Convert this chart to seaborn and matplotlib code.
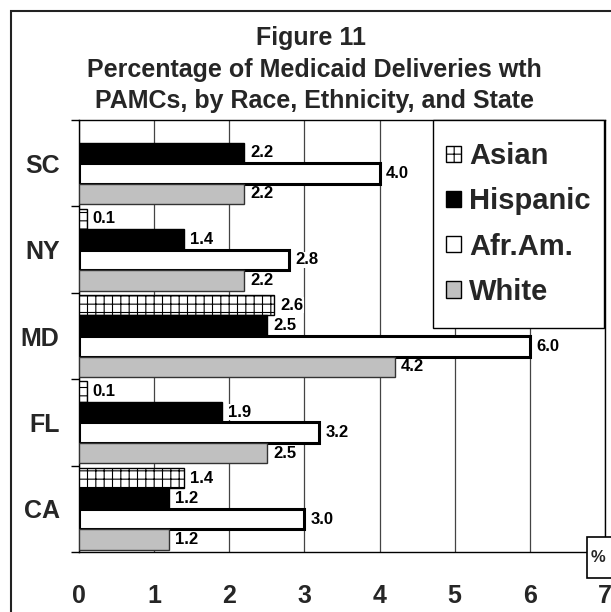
import numpy as np
import pandas as pd
import matplotlib
matplotlib.use("Agg")
import matplotlib.pyplot as plt
from matplotlib.patches import Patch, Rectangle
import seaborn as sns

# Data: percentage of Medicaid deliveries with PAMCs
states = ["SC", "NY", "MD", "FL", "CA"]
groups = ["Asian", "Hispanic", "Afr.Am.", "White"]
asian = [np.nan, 0.1, 2.6, 0.1, 1.4]
hispanic = [2.2, 1.4, 2.5, 1.9, 1.2]
afr_am = [4.0, 2.8, 6.0, 3.2, 3.0]
white = [2.2, 2.2, 4.2, 2.5, 1.2]
x_ticks = [0, 1, 2, 3, 4, 5, 6, 7]

sns.set_style("white")
plt.rcParams["font.family"] = ["Liberation Sans", "DejaVu Sans"]
plt.rcParams["font.weight"] = "bold"
plt.rcParams["hatch.linewidth"] = 0.8

rows = []
for g, vals in zip(groups, [asian, hispanic, afr_am, white]):
    for s, v in zip(states, vals):
        rows.append({"state": s, "group": g, "value": v})
df = pd.DataFrame(rows).dropna()

fig = plt.figure(figsize=(6.11, 6.12), dpi=100)
ax = fig.add_axes([79 / 611, 60 / 612, 526 / 611, 432 / 612])

sns.barplot(data=df, x="value", y="state", hue="group", order=states,
            hue_order=groups, orient="h", width=0.95, errorbar=None,
            saturation=1, legend=False, ax=ax)

styles = {
    "Asian": dict(facecolor="white", edgecolor="black", hatch="++", linewidth=1.0),
    "Hispanic": dict(facecolor="black", edgecolor="black", hatch=None, linewidth=1.0),
    "Afr.Am.": dict(facecolor="white", edgecolor="black", hatch=None, linewidth=2.2),
    "White": dict(facecolor="#c0c0c0", edgecolor="#333333", hatch=None, linewidth=1.0),
}

# order containers by their offset inside each state group (top to bottom)
def offset(c):
    p = c.patches[0]
    yc = p.get_y() + p.get_height() / 2
    return yc - round(yc)

containers = sorted([c for c in ax.containers], key=offset)
for g, cont in zip(groups, containers):
    st = styles[g]
    for p in cont.patches:
        p.set_facecolor(st["facecolor"])
        p.set_edgecolor(st["edgecolor"])
        p.set_linewidth(st["linewidth"])
        if st["hatch"]:
            p.set_hatch(st["hatch"])
        p.set_zorder(3)
    texts = ax.bar_label(cont, fmt="%.1f", padding=4.5, fontsize=12,
                         fontweight="bold", color="black", zorder=2.5)
    for t in texts:
        t.set_bbox(dict(facecolor="white", edgecolor="none", pad=0.5))

ax.set_xlim(0, 7)
ax.set_xticks(x_ticks)
ax.set_xticklabels([str(t) for t in x_ticks])
ax.set_ylim(len(states) - 0.5, -0.5)
ax.set_yticks(np.arange(-0.5, len(states)), minor=True)
ax.set_xlabel("")
ax.set_ylabel("")

ax.xaxis.grid(True, color="#444444", linewidth=0.9, zorder=0)
ax.yaxis.grid(False)
ax.set_axisbelow(True)

for sp in ax.spines.values():
    sp.set_visible(True)
    sp.set_color("black")
    sp.set_linewidth(1.0)

ax.tick_params(axis="x", which="major", direction="out", length=6, width=1,
               color="black", labelsize=18, pad=17)
ax.tick_params(axis="y", which="major", length=0, labelsize=18, pad=14)
ax.tick_params(axis="y", which="minor", direction="out", length=6, width=1,
               color="black", left=True)
for lbl in ax.get_xticklabels() + ax.get_yticklabels():
    lbl.set_fontweight("bold")

# legend box in the upper right corner of the plot area
box_x0, box_x1 = (433 - 79) / 526, (604 - 79) / 526
box_y0, box_y1 = 1 - 208 / 432, 1.0
ax.add_patch(Rectangle((box_x0, box_y0), box_x1 - box_x0, box_y1 - box_y0,
                       transform=ax.transAxes, facecolor="white",
                       edgecolor="black", linewidth=1.0, zorder=5,
                       clip_on=False))
handles = [Patch(facecolor=styles[g]["facecolor"], edgecolor="black",
                 hatch=styles[g]["hatch"], linewidth=1.0, label=g) for g in groups]
leg = ax.legend(handles=handles, loc="center",
                bbox_to_anchor=((box_x0 + box_x1) / 2, (box_y0 + box_y1) / 2),
                borderaxespad=0, frameon=False, prop={"weight": "bold", "size": 21},
                handlelength=0.5, handleheight=0.5, handletextpad=0.3,
                labelspacing=0.585, borderpad=0.0)
leg.set_zorder(6)

# title block
fig.text(0.509, 1 - 38 / 612, "Figure 11", ha="center", va="center",
         fontsize=18, fontweight="bold")
fig.text(0.515, 1 - 70 / 612, "Percentage of Medicaid Deliveries wth",
         ha="center", va="center", fontsize=18, fontweight="bold")
fig.text(0.515, 1 - 101 / 612, "PAMCs, by Race, Ethnicity, and State",
         ha="center", va="center", fontsize=18, fontweight="bold")

# axis unit box
fig.add_artist(Rectangle((587 / 611, 1 - 578 / 612), 60 / 611, 41 / 612,
                         transform=fig.transFigure, facecolor="white",
                         edgecolor="black", linewidth=1.2, zorder=5))
fig.text(591 / 611, 1 - 557 / 612, "%", ha="left", va="center",
         fontsize=12, fontweight="bold", zorder=6)

# chart frame
fig.add_artist(Rectangle((11 / 611, -0.05), 1.05, 1.05 - 11 / 612,
                         transform=fig.transFigure, fill=False,
                         edgecolor="#222222", linewidth=1.5, zorder=7))

fig.savefig("out.png", dpi=100)
